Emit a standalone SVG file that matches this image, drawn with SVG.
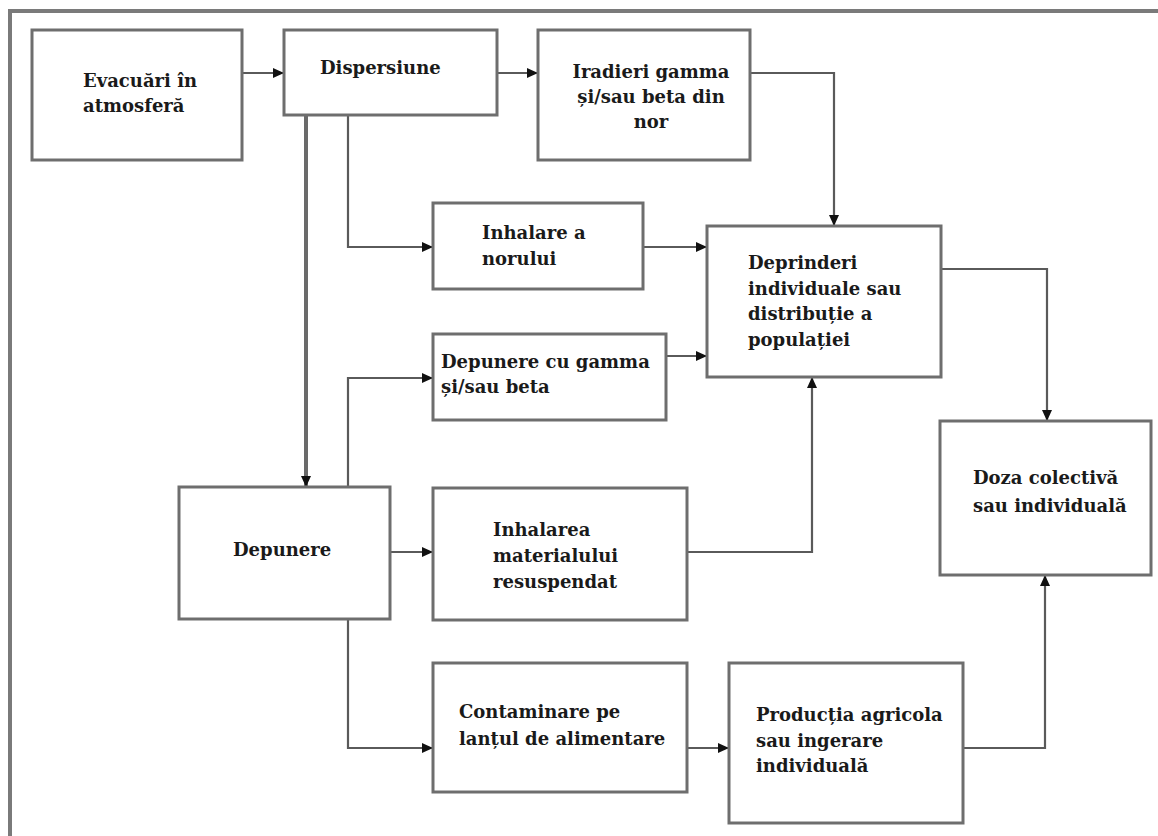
<svg xmlns="http://www.w3.org/2000/svg" width="1158" height="836" viewBox="0 0 1158 836">
<defs>
<style>
.box{fill:#ffffff;stroke:#6e6e6e;stroke-width:3}
.lbl{font-family:"DejaVu Serif","Liberation Serif",serif;font-weight:bold;font-size:18px;fill:#1a1a1a}
.mid{text-anchor:middle}
.con{fill:none;stroke:#5a5a5a;stroke-width:2.2;marker-end:url(#arr)}
.thick{stroke:#6a6a6a;stroke-width:4}
.frame{fill:none;stroke:#7a7a7a;stroke-width:4}
</style>
<marker id="arr" markerUnits="userSpaceOnUse" markerWidth="11" markerHeight="11" refX="11" refY="5.5" orient="auto">
<path d="M0,0.5 L11,5.5 L0,10.5 z" fill="#111"/>
</marker>
</defs>
<rect width="1158" height="836" fill="#ffffff"/>
<path class="frame" d="M10,836 L10,11 L1158,11"/>

<g id="connectors">
<path class="con" d="M242,73 L284,73"/>
<path class="con" d="M497,73 L538,73"/>
<path class="con" d="M750,73 L834,73 L834,226"/>
<path class="con thick" d="M306,115 L306,487"/>
<path class="con" d="M348,115 L348,247 L433,247"/>
<path class="con" d="M643,247 L707,247"/>
<path class="con" d="M666,356 L707,356"/>
<path class="con" d="M348,487 L348,378 L433,378"/>
<path class="con" d="M390,552 L433,552"/>
<path class="con" d="M687,552 L812,552 L812,377"/>
<path class="con" d="M348,619 L348,748 L433,748"/>
<path class="con" d="M687,748 L729,748"/>
<path class="con" d="M963,748 L1045,748 L1045,575"/>
<path class="con" d="M941,269 L1047,269 L1047,421"/>
</g>

<g id="evacuari">
<rect class="box" x="32" y="30" width="210" height="130"/>
<text class="lbl" x="83" y="87">Evacuări în</text>
<text class="lbl" x="83" y="112">atmosferă</text>
</g>
<g id="dispersiune">
<rect class="box" x="284" y="30" width="213" height="85"/>
<text class="lbl" x="320" y="74">Dispersiune</text>
</g>
<g id="iradieri">
<rect class="box" x="538" y="30" width="212" height="130"/>
<text class="lbl mid" x="651" y="78">Iradieri gamma</text>
<text class="lbl mid" x="651" y="103">și/sau beta din</text>
<text class="lbl mid" x="651" y="128">nor</text>
</g>
<g id="inhalare-nor">
<rect class="box" x="433" y="203" width="210" height="86"/>
<text class="lbl" x="482" y="239">Inhalare a</text>
<text class="lbl" x="482" y="265">norului</text>
</g>
<g id="depunere-gamma">
<rect class="box" x="433" y="334" width="233" height="86"/>
<text class="lbl" x="441" y="368">Depunere cu gamma</text>
<text class="lbl" x="441" y="393">și/sau beta</text>
</g>
<g id="deprinderi">
<rect class="box" x="707" y="226" width="234" height="151"/>
<text class="lbl" x="748" y="269">Deprinderi</text>
<text class="lbl" x="748" y="295">individuale sau</text>
<text class="lbl" x="748" y="320">distribuție a</text>
<text class="lbl" x="748" y="346">populației</text>
</g>
<g id="doza">
<rect class="box" x="940" y="421" width="211" height="154"/>
<text class="lbl" x="973" y="484">Doza colectivă</text>
<text class="lbl" x="973" y="512">sau individuală</text>
</g>
<g id="depunere">
<rect class="box" x="179" y="487" width="211" height="132"/>
<text class="lbl" x="233" y="556">Depunere</text>
</g>
<g id="inhalarea-material">
<rect class="box" x="433" y="488" width="254" height="132"/>
<text class="lbl" x="493" y="536">Inhalarea</text>
<text class="lbl" x="493" y="562">materialului</text>
<text class="lbl" x="493" y="588">resuspendat</text>
</g>
<g id="contaminare">
<rect class="box" x="433" y="663" width="254" height="129"/>
<text class="lbl" x="459" y="718">Contaminare pe</text>
<text class="lbl" x="459" y="745">lanțul de alimentare</text>
</g>
<g id="productia">
<rect class="box" x="729" y="663" width="234" height="160"/>
<text class="lbl" x="756" y="721">Producția agricola</text>
<text class="lbl" x="756" y="747">sau ingerare</text>
<text class="lbl" x="756" y="772">individuală</text>
</g>
</svg>
